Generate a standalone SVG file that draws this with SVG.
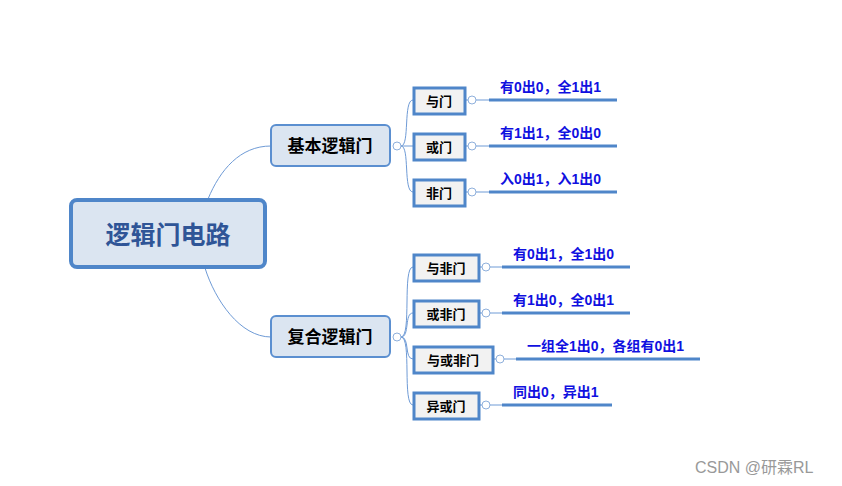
<svg xmlns="http://www.w3.org/2000/svg" width="842" height="486" viewBox="0 0 842 486">
<style>
text{font-family:"Liberation Sans","Noto Sans CJK SC",sans-serif;font-weight:bold}
.c{fill:none;stroke:#6f9bd6;stroke-width:1}
.leaf{fill:#f2f2f2;stroke:#4f86c9;stroke-width:3}
.mid{fill:#dbe5f1;stroke:#5b8fd0;stroke-width:2}
.t{font-size:13px;fill:#000;text-anchor:middle}
.n{font-size:14px;fill:#1010e0}
.ul{stroke:#4f86c9;stroke-width:3}
.k{fill:#fff;stroke:#8fb0dc;stroke-width:1}
</style>
<rect width="842" height="486" fill="#fff"/>
<g id="connectors">
<path class="c" d="M208,199 C220,170 240,146 271,146"/>
<path class="c" d="M205,268 C215,300 240,337 271,337"/>
<path class="c" d="M401,146 C410,146 403,100 413,100 M401,146 L413,146 M401,146 C410,146 403,192 413,192"/>
<path class="c" d="M401,337 C412,337 402,267 413,267 M401,337 C410,337 404,313 413,313 M401,337 C410,337 404,359 413,359 M401,337 C412,337 402,405 413,405"/>
<path class="c" d="M465,100H489M465,146H489M465,192H489M479,267H502M479,313H502M493,359H516M479,405H502"/>
<circle class="k" cx="397" cy="146" r="4"/><circle class="k" cx="397" cy="337" r="4"/>
<circle class="k" cx="472" cy="100" r="4"/><circle class="k" cx="472" cy="146" r="4"/><circle class="k" cx="472" cy="192" r="4"/>
<circle class="k" cx="486" cy="267" r="4"/><circle class="k" cx="486" cy="313" r="4"/><circle class="k" cx="500" cy="359" r="4"/><circle class="k" cx="486" cy="405" r="4"/>
</g>
<g id="root"><rect x="71" y="200" width="194" height="67" rx="6" fill="#dbe5f1" stroke="#4f86c9" stroke-width="4"/>
<text x="168" y="244" font-size="25" fill="#2f5597" text-anchor="middle">逻辑门电路</text></g>
<g id="basic"><rect class="mid" x="271" y="125" width="119" height="41" rx="5"/><text class="t" x="330" y="152" style="font-size:17px">基本逻辑门</text></g>
<g id="compound"><rect class="mid" x="271" y="316" width="119" height="41" rx="5"/><text class="t" x="330" y="343" style="font-size:17px">复合逻辑门</text></g>
<g id="and"><rect class="leaf" x="414" y="88" width="51" height="26"/><text class="t" x="439" y="106">与门</text><line class="ul" x1="489" y1="100" x2="617" y2="100"/><text class="n" x="500" y="92">有0出0，全1出1</text></g>
<g id="or"><rect class="leaf" x="414" y="134" width="51" height="26"/><text class="t" x="439" y="152">或门</text><line class="ul" x1="489" y1="146" x2="617" y2="146"/><text class="n" x="500" y="138">有1出1，全0出0</text></g>
<g id="not"><rect class="leaf" x="414" y="180" width="51" height="26"/><text class="t" x="439" y="198">非门</text><line class="ul" x1="489" y1="192" x2="617" y2="192"/><text class="n" x="500" y="184">入0出1，入1出0</text></g>
<g id="nand"><rect class="leaf" x="414" y="255" width="65" height="26"/><text class="t" x="446" y="273">与非门</text><line class="ul" x1="502" y1="267" x2="630" y2="267"/><text class="n" x="513" y="259">有0出1，全1出0</text></g>
<g id="nor"><rect class="leaf" x="414" y="301" width="65" height="26"/><text class="t" x="446" y="319">或非门</text><line class="ul" x1="502" y1="313" x2="630" y2="313"/><text class="n" x="513" y="305">有1出0，全0出1</text></g>
<g id="aoi"><rect class="leaf" x="414" y="347" width="79" height="26"/><text class="t" x="453" y="365">与或非门</text><line class="ul" x1="516" y1="359" x2="700" y2="359"/><text class="n" x="527" y="351">一组全1出0，各组有0出1</text></g>
<g id="xor"><rect class="leaf" x="414" y="393" width="65" height="26"/><text class="t" x="446" y="411">异或门</text><line class="ul" x1="502" y1="405" x2="612" y2="405"/><text class="n" x="513" y="397">同出0，异出1</text></g>
<text x="695" y="473" font-size="16" fill="#999" style="font-weight:normal">CSDN @研霖RL</text>
</svg>
